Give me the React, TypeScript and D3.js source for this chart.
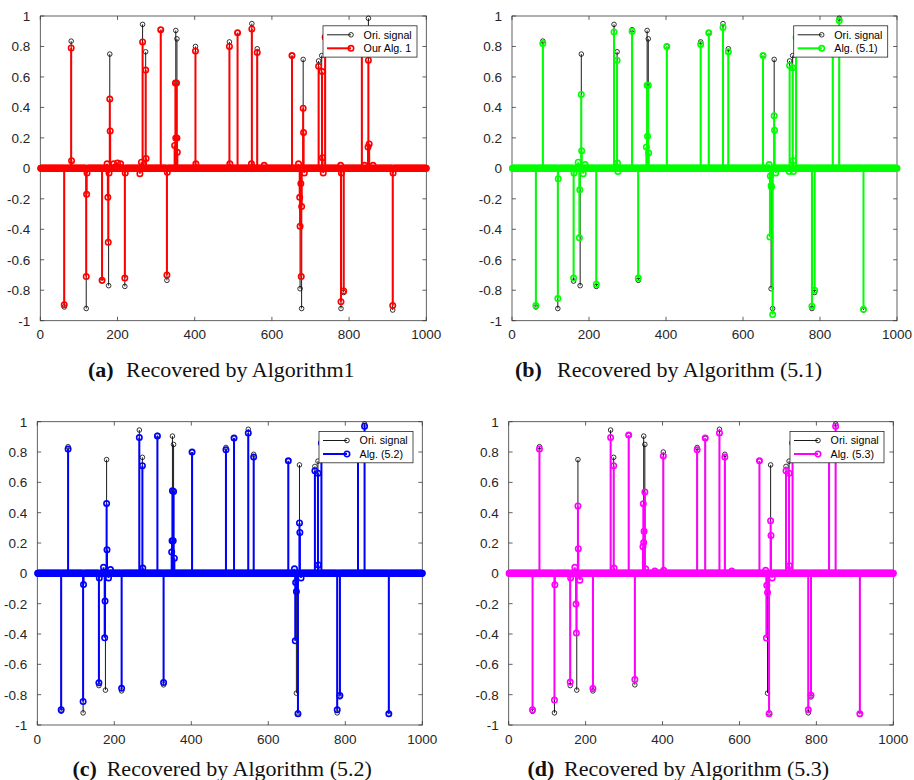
import React from 'react';
import * as d3 from 'd3';

// ---------------- data ----------------
const N = 1000;
const X_TICKS = [0, 200, 400, 600, 800, 1000];
const Y_TICKS = [-1, -0.8, -0.6, -0.4, -0.2, 0, 0.2, 0.4, 0.6, 0.8, 1];

// original sparse signal: [index, value]; all other entries are 0
const ORIGINAL: [number, number][] = [
  [62, -0.91], [80, 0.835], [119, -0.92], [160, -0.74], [177, -0.77], [180, 0.75],
  [219, -0.775], [265, 0.945], [273, 0.765], [312, 0.91], [328, -0.735], [351, 0.905],
  [354, 0.85], [402, 0.8], [490, 0.83], [511, 0.89], [548, 0.95], [562, 0.785],
  [652, 0.74], [673, -0.79], [677, -0.92], [681, 0.715], [721, 0.705], [729, 0.74],
  [738, 0.86], [779, -0.92], [786, -0.815], [833, 0.84], [850, 0.985], [913, -0.93],
];

// recovered by Algorithm 1 (non-zero entries)
const ALG_1: [number, number][] = [
  [62, -0.895], [80, 0.79], [81, 0.05], [119, -0.71], [120, -0.17], [121, -0.03],
  [160, -0.735], [173, 0.03], [175, -0.19], [176, -0.485], [178, -0.03], [180, 0.455],
  [181, 0.245], [190, 0.03], [200, 0.035], [208, 0.03], [219, -0.72], [220, -0.03],
  [258, -0.035], [262, 0.04], [265, 0.83], [273, 0.645], [274, 0.065], [312, 0.91],
  [328, -0.7], [329, -0.025], [348, 0.15], [350, 0.56], [351, 0.2], [353, 0.56],
  [354, 0.2], [355, 0.105], [402, 0.77], [403, 0.03], [490, 0.8], [491, 0.03],
  [511, 0.89], [547, 0.03], [548, 0.915], [562, 0.76], [580, 0.02], [652, 0.74],
  [669, 0.03], [672, -0.19], [673, -0.38], [675, -0.1], [676, -0.71], [677, -0.25],
  [681, 0.395], [682, 0.235], [684, -0.03], [721, 0.67], [730, 0.635], [731, 0.07],
  [733, -0.03], [738, 0.86], [778, 0.02], [779, -0.875], [780, -0.03], [786, -0.805],
  [833, 0.84], [840, 0.02], [849, 0.14], [850, 0.71], [852, 0.16], [862, 0.02],
  [913, -0.9], [914, -0.03],
];

// recovered by Algorithm (5.1)
const ALG_51: [number, number][] = [
  [62, -0.9], [80, 0.82], [119, -0.855], [120, -0.068], [160, -0.72], [161, -0.03],
  [172, 0.04], [175, -0.455], [176, -0.14], [180, 0.485], [181, 0.115], [185, -0.035],
  [190, 0.025], [219, -0.76], [265, 0.895], [273, 0.71], [274, 0.035], [275, -0.02],
  [312, 0.9], [328, -0.72], [349, 0.14], [351, 0.545], [352, 0.21], [354, 0.545],
  [355, 0.1], [402, 0.8], [490, 0.815], [511, 0.89], [548, 0.925], [562, 0.765],
  [652, 0.74], [668, 0.025], [670, -0.45], [671, -0.05], [673, -0.115], [674, -0.12],
  [677, -0.96], [681, 0.345], [682, 0.25], [685, -0.03], [720, -0.02], [721, 0.675],
  [729, 0.66], [730, 0.05], [731, -0.02], [738, 0.86], [779, -0.905], [786, -0.8],
  [833, 0.84], [850, 0.97], [913, -0.925],
];

// recovered by Algorithm (5.2)
const ALG_52: [number, number][] = [
  [62, -0.9], [80, 0.82], [119, -0.845], [120, -0.073], [160, -0.722], [161, -0.03],
  [172, 0.04], [175, -0.425], [176, -0.183], [180, 0.46], [181, 0.155], [185, -0.03],
  [190, 0.025], [219, -0.758], [265, 0.895], [273, 0.71], [274, 0.035], [312, 0.905],
  [328, -0.72], [349, 0.14], [350, 0.215], [351, 0.545], [353, 0.215], [354, 0.54],
  [356, 0.1], [402, 0.8], [490, 0.815], [511, 0.893], [548, 0.925], [562, 0.767],
  [652, 0.742], [668, 0.03], [670, -0.445], [671, -0.06], [673, -0.12], [677, -0.925],
  [681, 0.332], [682, 0.27], [685, -0.03], [721, 0.676], [729, 0.66], [730, 0.055],
  [738, 0.86], [779, -0.9], [786, -0.806], [833, 0.84], [850, 0.97], [913, -0.925],
];

// recovered by Algorithm (5.3)
const ALG_53: [number, number][] = [
  [62, -0.9], [80, 0.82], [119, -0.835], [120, -0.075], [160, -0.717], [161, -0.03],
  [172, 0.04], [175, -0.202], [176, -0.393], [180, 0.444], [181, 0.163], [185, -0.045],
  [219, -0.76], [265, 0.895], [273, 0.71], [274, 0.035], [312, 0.912], [328, -0.7],
  [349, 0.176], [350, 0.459], [351, 0.204], [352, 0.277], [354, 0.537], [356, 0.03],
  [380, 0.015], [402, 0.774], [403, 0.02], [490, 0.815], [511, 0.893], [548, 0.925],
  [562, 0.767], [580, 0.015], [652, 0.742], [668, 0.02], [670, -0.426], [671, -0.079],
  [673, -0.127], [677, -0.925], [681, 0.347], [682, 0.25], [685, -0.03], [721, 0.676],
  [729, 0.66], [730, 0.05], [738, 0.86], [779, -0.9], [786, -0.804], [833, 0.84],
  [850, 0.97], [913, -0.925],
];

const LEGEND_ORIGINAL = 'Ori. signal';
const LEGEND_LABELS = ['Our Alg. 1', 'Alg. (5.1)', 'Alg. (5.2)', 'Alg. (5.3)'];
const CAPTION_TAGS = ['(a)', '(b)', '(c)', '(d)'];
const CAPTION_TEXTS = [
  'Recovered by Algorithm1',
  'Recovered by Algorithm (5.1)',
  'Recovered by Algorithm (5.2)',
  'Recovered by Algorithm (5.3)',
];
const SERIES = [ALG_1, ALG_51, ALG_52, ALG_53];

// ---------------- layout / style ----------------
const COLORS = ['#ff0000', '#00ff00', '#0000ff', '#ff00ff'];
const LAYOUT = [
  { l: 40.3, r: 426.3, t: 16, b: 320.7, tagX: 88, textX: 126, capY: 377 },
  { l: 512, r: 897, t: 16, b: 320.7, tagX: 515, textX: 557, capY: 377 },
  { l: 37.3, r: 422.3, t: 421.7, b: 725, tagX: 72.5, textX: 106.7, capY: 776 },
  { l: 508.7, r: 893.3, t: 421.7, b: 725, tagX: 527.5, textX: 564, capY: 776 },
];

function dense(sparse: [number, number][]): number[] {
  const arr = new Array(N).fill(0);
  sparse.forEach(([i, v]) => { arr[i - 1] = v; });
  return arr;
}

const SANS = 'Liberation Sans, Arial, Helvetica, sans-serif';
const SERIF = 'Liberation Serif, Times New Roman, serif';

function Stems({ values, x, y, color, lw, r, sw }: any) {
  const y0 = y(0);
  return (
    <g>
      {values.map((v: number, k: number) =>
        v !== 0 ? (
          <line key={'l' + k} x1={x(k + 1)} x2={x(k + 1)} y1={y0} y2={y(v)} stroke={color} strokeWidth={lw} />
        ) : null
      )}
      {values.map((v: number, k: number) => (
        <circle key={'c' + k} cx={x(k + 1)} cy={y(v)} r={r} fill="none" stroke={color} strokeWidth={sw} />
      ))}
    </g>
  );
}

function Panel({ idx }: { idx: number }) {
  const L = LAYOUT[idx];
  const color = COLORS[idx];
  const x = d3.scaleLinear().domain([0, N]).range([L.l, L.r]);
  const y = d3.scaleLinear().domain([-1, 1]).range([L.b, L.t]);
  const ori = dense(ORIGINAL);
  const rec = dense(SERIES[idx]);
  const axisColor = '#3a3a3a';
  const tickLen = 3.9;
  const lgL = L.r - 103.3;
  const lgT = L.t + 9.8;
  const lgW = 94;
  const lgH = 31.3;
  return (
    <g>
      {/* axes box */}
      <rect x={L.l} y={L.t} width={L.r - L.l} height={L.b - L.t} fill="#fff" stroke={axisColor} strokeWidth={0.8} />
      {X_TICKS.map((t) => (
        <g key={'xt' + t}>
          <line x1={x(t)} x2={x(t)} y1={L.b} y2={L.b - tickLen} stroke={axisColor} strokeWidth={0.8} />
          <line x1={x(t)} x2={x(t)} y1={L.t} y2={L.t + tickLen} stroke={axisColor} strokeWidth={0.8} />
          <text x={x(t)} y={L.b + 18.5} textAnchor="middle" fontFamily={SANS} fontSize={13.5} fill="#262626">
            {t}
          </text>
        </g>
      ))}
      {Y_TICKS.map((t) => (
        <g key={'yt' + t}>
          <line x1={L.l} x2={L.l + tickLen} y1={y(t)} y2={y(t)} stroke={axisColor} strokeWidth={0.8} />
          <line x1={L.r} x2={L.r - tickLen} y1={y(t)} y2={y(t)} stroke={axisColor} strokeWidth={0.8} />
          <text x={L.l - 10} y={y(t)} dy="0.36em" textAnchor="end" fontFamily={SANS} fontSize={13.5} fill="#262626">
            {d3.format('~g')(t).replace('−', '-')}
          </text>
        </g>
      ))}
      {/* original signal */}
      <Stems values={ori} x={x} y={y} color="#000" lw={0.9} r={2.3} sw={0.8} />
      {/* recovered signal */}
      <Stems values={rec} x={x} y={y} color={color} lw={2} r={2.7} sw={1.6} />
      {/* legend */}
      <rect x={lgL} y={lgT} width={lgW} height={lgH} fill="#fff" stroke="#262626" strokeWidth={0.8} />
      <line x1={lgL + 4} x2={lgL + 28} y1={lgT + 9} y2={lgT + 9} stroke="#000" strokeWidth={0.9} />
      <circle cx={lgL + 28} cy={lgT + 9} r={2.3} fill="none" stroke="#000" strokeWidth={0.8} />
      <text x={lgL + 40.6} y={lgT + 9} dy="0.36em" fontFamily={SANS} fontSize={10.7} fill="#000">
        {LEGEND_ORIGINAL}
      </text>
      <line x1={lgL + 4} x2={lgL + 28} y1={lgT + 22.5} y2={lgT + 22.5} stroke={color} strokeWidth={2} />
      <circle cx={lgL + 28} cy={lgT + 22.5} r={2.7} fill="none" stroke={color} strokeWidth={1.6} />
      <text x={lgL + 40.6} y={lgT + 22.5} dy="0.36em" fontFamily={SANS} fontSize={10.7} fill="#000">
        {LEGEND_LABELS[idx]}
      </text>
      {/* caption */}
      <text x={L.tagX} y={L.capY} fontFamily={SERIF} fontWeight="bold" fontSize={22} fill="#111">
        {CAPTION_TAGS[idx]}
      </text>
      <text x={L.textX} y={L.capY} fontFamily={SERIF} fontSize={22} fill="#111">
        {CAPTION_TEXTS[idx]}
      </text>
    </g>
  );
}

export default function App() {
  return (
    <svg
      width={914}
      height={780}
      style={{ position: 'absolute', left: 0, top: 0, background: '#fff' }}
    >
      <rect x={0} y={0} width={914} height={780} fill="#fff" />
      {[0, 1, 2, 3].map((i) => (
        <Panel key={i} idx={i} />
      ))}
    </svg>
  );
}
